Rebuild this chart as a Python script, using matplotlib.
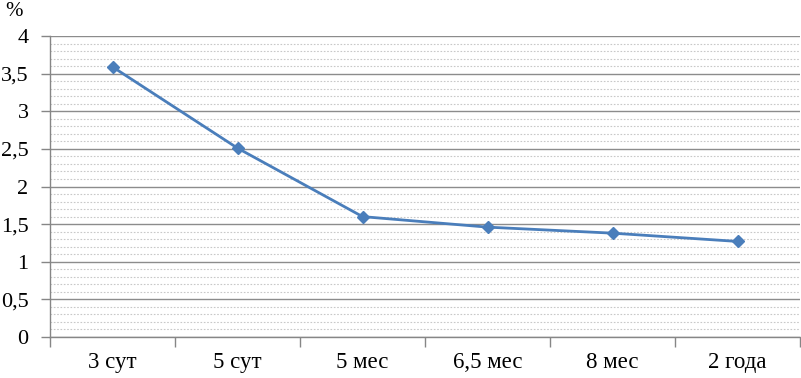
import matplotlib
matplotlib.use("Agg")
import matplotlib.pyplot as plt
from matplotlib.ticker import MultipleLocator, FixedLocator, NullFormatter
import numpy as np

categories = ["3 сут", "5 сут", "5 мес", "6,5 мес", "8 мес", "2 года"]
values = [3.59, 2.51, 1.60, 1.46, 1.38, 1.27]
yticks = [0, 0.5, 1, 1.5, 2, 2.5, 3, 3.5, 4]
ytick_labels = ["0", "0,5", "1", "1,5", "2", "2,5", "3", "3,5", "4"]

plt.rcParams['font.family'] = ['Liberation Serif', 'DejaVu Serif']

fig = plt.figure(figsize=(8.01, 3.78), dpi=100)
ax = fig.add_axes([50/801, 1 - 337/378, 750/801, (337-36)/378])

x = np.arange(len(categories))
ax.plot(x, values, color='#4A7EBB', lw=2, marker='D', ms=6.5,
        markerfacecolor='#4A7EBB', markeredgecolor='#4A7EBB', zorder=5)

ax.set_xlim(-0.5, len(categories) - 0.5)
ax.set_ylim(0, 4)
ax.set_yticks(yticks)
ax.set_yticklabels(ytick_labels)
ax.yaxis.set_minor_locator(MultipleLocator(0.1))

ax.set_xticks(x)
ax.set_xticklabels(categories)
ax.xaxis.set_minor_locator(FixedLocator(np.arange(-0.5, len(categories), 1)))
ax.xaxis.set_minor_formatter(NullFormatter())

ax.tick_params(axis='x', which='major', length=0, labelsize=16.5, pad=11, colors='black')
ax.tick_params(axis='x', which='minor', length=7, width=1, color='#868686', direction='out')
ax.tick_params(axis='y', which='major', length=6.5, width=1, color='#868686',
               labelsize=16, pad=9, labelcolor='black')
ax.tick_params(axis='y', which='minor', length=0)

ax.grid(axis='y', which='major', color='#8C8C8C', lw=1)
ax.grid(axis='y', which='minor', color='#C8C8C8', lw=0.8, ls=(0, (1.5, 1.5)))
ax.set_axisbelow(True)

for s in ['top', 'right']:
    ax.spines[s].set_visible(False)
for s in ['left', 'bottom']:
    ax.spines[s].set_color('#868686')
    ax.spines[s].set_linewidth(1)

fig.text(5/801, 1 - 11/378, "%", fontsize=15, ha='left', va='center')

fig.savefig("out.png", dpi=100)
